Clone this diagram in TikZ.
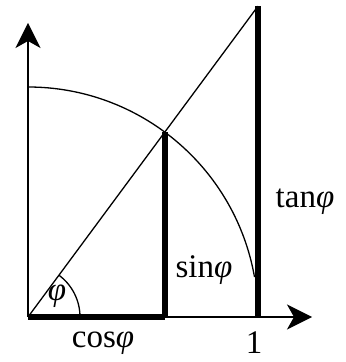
\documentclass[tikz,border=0pt]{standalone}
\usepackage{fontspec}
\setmainfont{Liberation Serif}
\usepackage{tikz}
\usetikzlibrary{arrows.meta, calc}

\begin{document}
\begin{tikzpicture}[
  x=0.5pt, y=0.5pt,
  every node/.style={font=\fontsize{16.5}{19}\selectfont, inner sep=1pt},
  axis/.style={line width=1.1pt, -{Stealth[length=12.5pt, width=12.5pt, inset=3.5pt]}},
  thin line/.style={line width=0.65pt},
  seg/.style={line width=3pt}
]
  \useasboundingbox (-28,-45) rectangle (317,317);

  % Punti principali
  \coordinate (O) at (0,0);
  \coordinate (P) at (53.5:230);
  \coordinate (C) at (P |- O);
  \coordinate (E) at (230,0);
  \coordinate (T) at (230,{230*tan(53.5)});
  \coordinate (xend) at (284,0);
  \coordinate (yend) at (0,294);

  % Assi
  \draw[axis] (O) -- (xend);
  \draw[axis] (O) -- (yend);

  % Cerchio unitario e retta per l'origine
  \draw[thin line] (0,230) arc[start angle=90, end angle=10, radius=230];
  \draw[thin line] (O) -- (T);
  \draw[thin line] (52,0) arc[start angle=0, end angle=53.5, radius=52];

  % Segmenti spessi
  \draw[seg] (O) -- (C);
  \draw[seg] (C) -- (P);
  \draw[seg] (E) -- (T);

  % Etichette
  \node (phi) at (29,21) {\itshape φ};
  \node (cos) at (75,-26) {cos{\itshape φ}};
  \node (sin) at (176,47) {sin{\itshape φ}};
  \node (tan) at (277,115) {tan{\itshape φ}};
  \node (one) at (226,-26) {1};
\end{tikzpicture}
\end{document}
